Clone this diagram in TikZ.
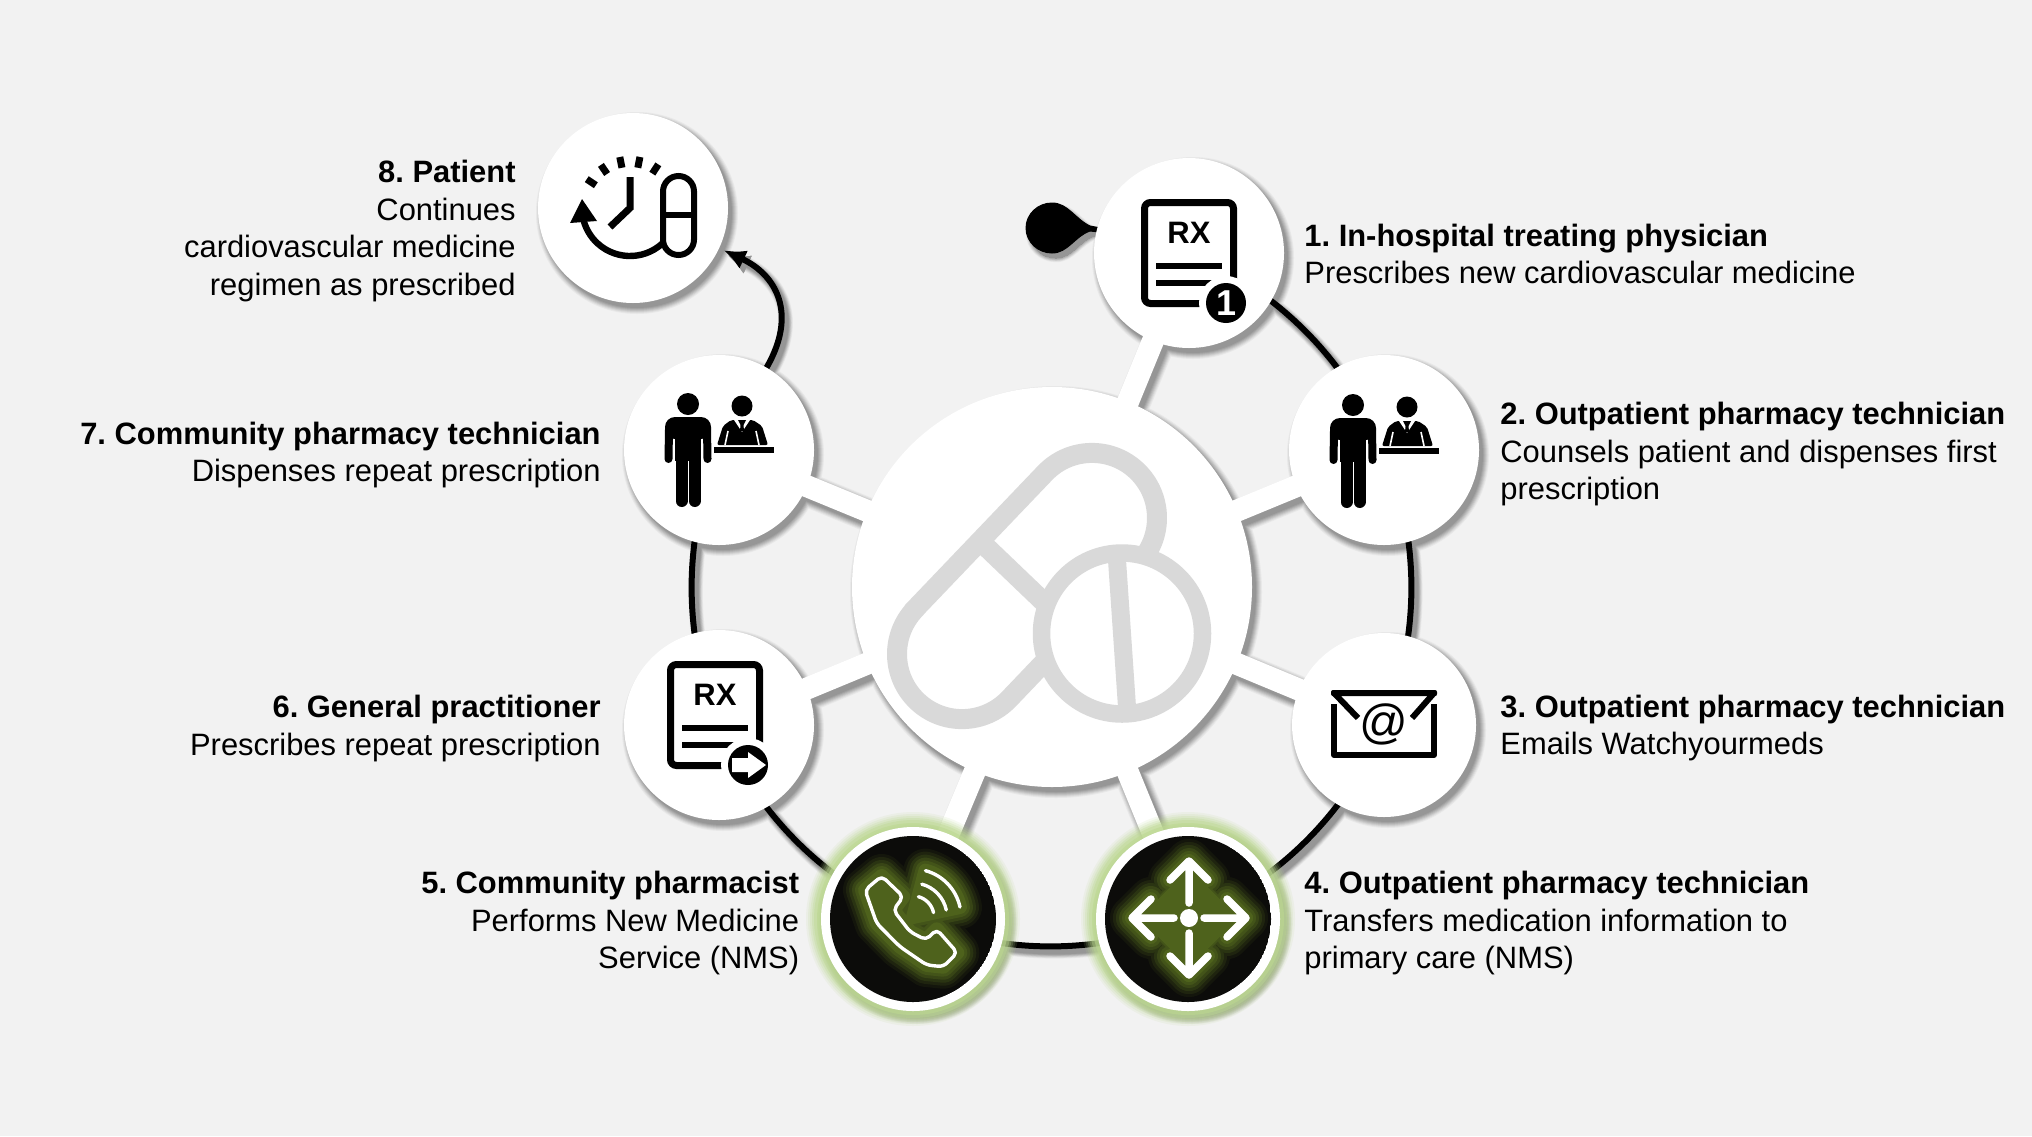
\documentclass[tikz,border=0pt]{standalone}
\usepackage{fontspec}
\setmainfont{Liberation Sans}
\usetikzlibrary{arrows.meta}
\pgfdeclarelayer{backdrop}
\pgfdeclarelayer{under}
\pgfsetlayers{backdrop,under,main}
\definecolor{bgc}{HTML}{F2F2F2}
\definecolor{pillgrey}{HTML}{D9D9D9}
\definecolor{olive}{HTML}{4E621C}
\definecolor{darkc}{HTML}{0C0C0A}
\definecolor{glowc}{HTML}{BCD890}
\tikzset{
  x=0.5pt,y=-0.5pt,
  disc/.style={circle,fill=white,inner sep=0pt,outer sep=0pt,minimum size=95pt},
  smalldisc/.style={disc,minimum size=92pt},
  hubdisc/.style={disc,minimum size=200pt},
  lab/.style={font=\fontsize{15.45}{18.75}\selectfont\frenchspacing,inner sep=0pt},
  labl/.style={lab,anchor=west,align=left},
  labr/.style={lab,anchor=east,align=right},
  ring/.style={line width=3pt},
  spoke/.style={line width=11pt},
  icon/.style={line width=3.5pt,line cap=butt},
  rxtext/.style={font=\fontsize{15.5}{15.5}\selectfont\bfseries,inner sep=0pt},
  badgetext/.style={font=\fontsize{18}{18}\selectfont\bfseries,inner sep=0pt,text=white},
  tipstyle/.style={-{Latex[length=11pt,width=10pt]},shorten >=2.5pt},
}
\newcommand\ringarcs[1]{%
  \draw[#1] (n1.center) to[bend left=22.5,looseness=.89] (n2.center);
  \draw[#1] (n2.center) to[bend left=22.5,looseness=.89] (n3.center);
  \draw[#1] (n3.center) to[bend left=22.5,looseness=.89] (n4.center);
  \draw[#1] (n4.center) to[bend left=22.5,looseness=.89] (n5.center);
  \draw[#1] (n5.center) to[bend left=22.5,looseness=.89] (n6.center);
  \draw[#1] (n6.center) to[bend left=22.5,looseness=.89] (n7.center);
}
\newcommand\spokes[1]{%
  \foreach \k in {1,...,7}{\draw[#1] (hub.center) -- (n\k.center);}
}
\newcommand\lastarc[1]{%
  \draw[#1,tipstyle] (n7) to[out=60,in=-25,looseness=1.25] (n8);
}
\newcommand\dropshape{(1052,203) .. controls (1068,203) and (1075,219) .. (1090,226) -- (1100,228) -- (1100,232) -- (1090,231) .. controls (1075,236) and (1068,253) .. (1052,253) .. controls (1038,253) and (1026,242) .. (1026,228) .. controls (1026,214) and (1038,203) .. (1052,203) -- cycle}
\newcommand\docicon[2]{%
  \begin{scope}[shift={(#1,#2)}]
    \draw[icon,rounded corners=3pt] (-44.5,-50.5) rectangle (44.5,50.5);
    \node[rxtext] at (0,-20) {RX};
    \fill (-33,10) rectangle (33,16);
    \fill (-33,27) rectangle (33,33);
  \end{scope}}
\newcommand\personicon[2]{%
  \begin{scope}[shift={(#1,#2)}]
    \fill (1353,405) circle (11);
    \fill[rounded corners=5pt] (1330,440) -- (1330,418) -- (1376,418) -- (1376,440) -- cycle;
    \fill (1340,425) rectangle (1366,462);
    \draw[line width=4pt,line cap=round] (1334,430) -- (1333.5,460);
    \draw[line width=4pt,line cap=round] (1372,430) -- (1372.5,460);
    \draw[line width=6pt,line cap=round] (1346.5,455) -- (1346.5,502);
    \draw[line width=6pt,line cap=round] (1359.5,455) -- (1359.5,502);
    \fill (1407,407) circle (10.5);
    \fill[rounded corners=1pt] (1396,421) -- (1418,421) -- (1427,427) -- (1433,446) -- (1382,446) -- (1388,427) -- cycle;
    \fill[white] (1399,421) -- (1415,421) -- (1407,433) -- cycle;
    \fill (1403,421) -- (1411,421) -- (1408.5,426) -- (1409,432) -- (1405,432) -- (1405.5,426) -- cycle;
    \draw[white,line width=.8pt] (1393,432) -- (1390,446);
    \draw[white,line width=.8pt] (1421,432) -- (1424,446);
    \fill (1379,448) rectangle (1439,454);
  \end{scope}}
\newcommand\phonepath{(881.7,876) -- (865,890) -- (876.7,923.3) -- (900,946.7) -- (926.7,965) -- (943.3,966.7) -- (957.3,952.7) -- (936.7,929.3) -- (926,940) -- (910,931.7) -- (893.3,910) -- (903.3,896.7) -- cycle}
\newcommand\phonearcs[1]{%
  \draw[#1] (913,917) ++(-75:21) arc[start angle=-75,end angle=-12,radius=21];
  \draw[#1] (913,917) ++(-75:34) arc[start angle=-75,end angle=-12,radius=34];
  \draw[#1] (913,917) ++(-75:48) arc[start angle=-75,end angle=-12,radius=48];
}
\newcommand\moveicon[1]{%
  \foreach \a in {0,90,180,270}{%
    \draw[#1,rotate around={\a:(1189,918)}] (1189,903) -- (1189,861) (1170,880) -- (1189,861) -- (1208,880);}
}
\newcommand\moveglow[1]{%
  \foreach \a in {0,90,180,270}{%
    \draw[#1,fill,rotate around={\a:(1189,918)}] (1170,880) -- (1189,861) -- (1208,880) -- cycle;
    \draw[#1,rotate around={\a:(1189,918)}] (1189,903) -- (1189,861);}
}
\begin{document}
\begin{tikzpicture}
\useasboundingbox (0,0) rectangle (2032,1136);
\begin{pgfonlayer}{backdrop}
\fill[bgc] (0,0) rectangle (2032,1136);
\end{pgfonlayer}

% nodes
\node[hubdisc] (hub) at (1052,587) {};
\node[disc] (n1) at (1189,253) {};
\node[disc] (n2) at (1384,450) {};
\node[smalldisc] (n3) at (1384,725) {};
\node[smalldisc] (n4) at (1188,919) {};
\node[smalldisc] (n5) at (913,919) {};
\node[disc] (n6) at (719,725) {};
\node[disc] (n7) at (719,450) {};
\node[disc] (n8) at (633,208) {};
\coordinate (drop) at (1052,228);

\begin{pgfonlayer}{under}
  % soft shadows, light to dark
  \begin{scope}[transform canvas={xshift=2pt,yshift=-2.5pt}]
  \foreach \e/\p in {6/4,5/9,4/15,3/21,2/27,1/33,0/38}{%
    \colorlet{shc}{black!\p!bgc}
    \fill[shc] (hub.center) circle ({200+\e});
    \foreach \k in {1,2,6,7,8}{\fill[shc] (n\k.center) circle ({95+\e});}
    \foreach \k in {3}{\fill[shc] (n\k.center) circle ({92+\e});}
    \fill[shc] (n4.center) circle ({94+\e});
    \fill[shc] (n5.center) circle ({94+\e});
    \spokes{shc,line width={(11+\e)*1pt}}
    \ringarcs{shc,line width={(3+\e*.7)*1pt}}
    \lastarc{shc,line width={(3+\e*.7)*1pt}}
    \draw[shc,fill=shc,line width={\e*.7pt}] \dropshape;
  }
  \end{scope}
  \spokes{white,spoke}
  \ringarcs{black,ring}
  \lastarc{black,ring}
  % green halo
  \foreach \r/\o in {107/.12,105/.16,103/.22,101/.3,99/.4,96/.55}{%
    \fill[glowc,opacity=\o] (n4.center) circle (\r);
    \fill[glowc,opacity=\o] (n5.center) circle (\r);
  }
  \fill[black,draw=black,line width=.5pt] \dropshape;
  \draw[black,line width=1.5pt] (drop) -- (n1.165);
\end{pgfonlayer}

% central pills
\draw[pillgrey,line width=10pt] (915,609) -- (1045,473) arc[start angle=-136.3,end angle=43.7,radius=65] -- (1009,699) arc[start angle=43.7,end angle=223.7,radius=65] -- cycle;
\draw[pillgrey,line width=10pt] (980,541) -- (1074,631);
\draw[pillgrey,fill=white,line width=8.75pt] (1122,633.5) circle (80.5);
\draw[pillgrey,line width=9pt] (1117,560) -- (1127,707);

% 1 prescription
\docicon{1189}{253}
\fill[white] (1226,303) circle (27);
\fill[black] (1226,303) circle (20);
\node[badgetext] at (1226,303) {1};

% 2 and 7 people
\personicon{0}{0}
\personicon{-665}{-1}

% 3 envelope
\fill[rounded corners=1pt] (1331,690) rectangle (1437,696);
\draw[line width=3pt] (1334,693) -- (1358,718);
\draw[line width=3pt] (1434,693) -- (1412,718);
\draw[line width=3pt,line join=round] (1334,704) -- (1334,755) -- (1434,755) -- (1434,704);
\node[font=\fontsize{24}{24}\selectfont,inner sep=0pt] (at) at (1384,724) {@};

% 4 and 5 dark discs
\begin{scope}
  \clip (n4.center) circle (83);
  \fill[darkc] (n4.center) circle (83);
  \foreach \w/\p in {44/12,38/28,32/46,26/66,20/84,14/100}{%
    \colorlet{gc}{olive!\p!darkc}
    \moveglow{gc,line width={\w*.5pt},line cap=round,line join=round}
    \fill[gc] (1189,918-44-\w*.4) -- (1189+44+\w*.4,918) -- (1189,918+44+\w*.4) -- (1189-44-\w*.4,918) -- cycle;
  }
\end{scope}
\moveicon{white,line width=3.75pt,line cap=round,line join=round}
\fill[white] (1189,918) circle (9);

\begin{scope}
  \clip (n5.center) circle (83);
  \fill[darkc] (n5.center) circle (83);
  \foreach \w/\p in {44/12,38/28,32/46,26/66,20/84,14/100}{%
    \colorlet{gc}{olive!\p!darkc}
    \draw[gc,fill=gc,line width={\w*.5pt},line join=round] \phonepath;
    \draw[gc,fill=gc,line width={\w*.5pt},line join=round] (913,917) -- ++(-75:48) arc[start angle=-75,end angle=-12,radius=48] -- cycle;
  }
\end{scope}
\draw[white,line width=1.7pt,rounded corners=2.5pt,line join=round] \phonepath;
\phonearcs{white,line width=1.7pt,line cap=round}

% 6 prescription with arrow
\docicon{715}{715}
\fill[white] (748,765) circle (27);
\fill[black] (748,765) circle (20);
\fill[white] (732,758) -- (748,758) -- (748,752) -- (766,765) -- (748,778) -- (748,772) -- (732,772) -- cycle;

% 8 clock and capsule
\draw[line width=3pt] (663,191.5) arc[start angle=180,end angle=360,radius=15.5] -- (694,239.5) arc[start angle=0,end angle=180,radius=15.5] -- cycle;
\draw[line width=3pt] (663,215) -- (694,215);
\draw[line width=3.5pt] (630,177) -- (630,208) -- (610,227);
\draw[line width=3.2pt] (630,208) ++(47.6:48) arc[start angle=47.6,end angle=166,radius=48];
\fill (582,199) -- (597,221) -- (570,223) -- cycle;
\begin{scope}[shift={(630,208)}]
  \foreach \a in {213.7,236,258.7,281,303}{\draw[line width=3.5pt] (\a:41) -- (\a:52);}
\end{scope}

% labels
\node[labl] (t1) at (1304,254) {\textbf{1. In-hospital treating physician}\\Prescribes new cardiovascular medicine};
\node[labl] (t2) at (1500,454) {\textbf{2. Outpatient pharmacy technician}\\Counsels patient and dispenses first\\prescription};
\node[labl] (t3) at (1500,728) {\textbf{3. Outpatient pharmacy technician}\\Emails Watchyourmeds};
\node[labl] (t4) at (1304,923) {\textbf{4. Outpatient pharmacy technician}\\Transfers medication information to\\primary care (NMS)};
\node[labr] (t5) at (799.5,923) {\textbf{5. Community pharmacist}\\Performs New Medicine\\Service (NMS)};
\node[labr] (t6) at (601,728.5) {\textbf{6. General practitioner}\\Prescribes repeat prescription};
\node[labr] (t7) at (601,455) {\textbf{7. Community pharmacy technician}\\Dispenses repeat prescription};
\node[labr] (t8) at (516,231) {\textbf{8. Patient}\\Continues\\cardiovascular medicine\\regimen as prescribed};
\end{tikzpicture}
\end{document}
